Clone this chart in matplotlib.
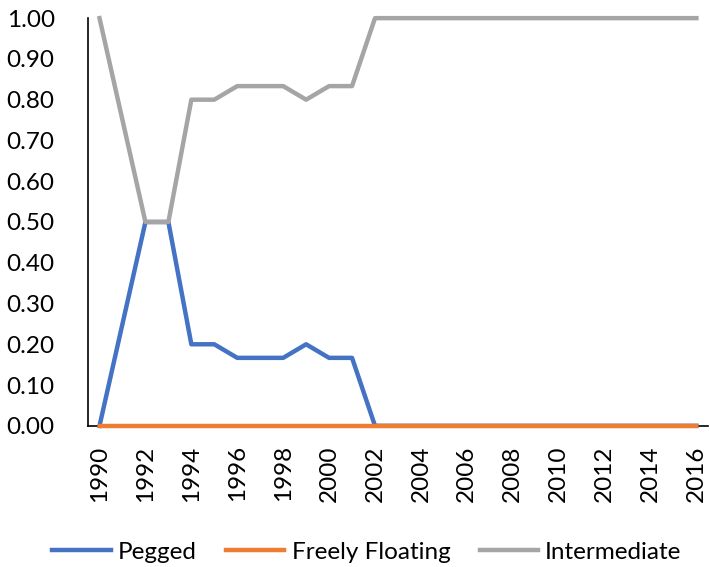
import matplotlib
matplotlib.use('Agg')
import matplotlib.pyplot as plt
import numpy as np

plt.rcParams['font.family'] = ['Lato', 'DejaVu Sans']

### Données

years = np.arange(1990, 2017)
pegged = [0.0, 0.25, 0.5, 0.5, 0.2, 0.2, 0.1667, 0.1667, 0.1667, 0.2, 0.1667, 0.1667] + [0.0] * 15
floating = [0.0] * 27
intermediate = [1.0, 0.75, 0.5, 0.5, 0.8, 0.8, 0.8333, 0.8333, 0.8333, 0.8, 0.8333, 0.8333] + [1.0] * 15

### Tracé

ftsize = 17.5
fig = plt.figure(figsize=(7.1, 5.67), dpi=100)
ax = fig.add_axes([0.124, 0.249, 0.873, 0.719])

ax.plot(years, pegged, color='#4472C4', lw=3.2, label='Pegged', clip_on=False, zorder=3)
ax.plot(years, floating, color='#ED7D31', lw=3.2, label='Freely Floating', clip_on=False, zorder=3)
ax.plot(years, intermediate, color='#A5A5A5', lw=3.2, label='Intermediate', clip_on=False, zorder=3)

ax.set_xlim(1989.5, 2016.5)
ax.set_ylim(0, 1.0)
ax.set_xticks(years[::2])
ax.set_xticklabels([str(y) for y in years[::2]], rotation=90, fontsize=ftsize)
ax.set_yticks(np.arange(0, 1.01, 0.1))
ax.set_yticklabels(['%.2f' % v for v in np.arange(0, 1.01, 0.1)], fontsize=ftsize)
ax.tick_params(length=0)
ax.tick_params(axis='x', pad=14)
ax.tick_params(axis='y', pad=24)

for s in ['top', 'right']:
    ax.spines[s].set_visible(False)
ax.spines['left'].set_linewidth(1.2)
ax.spines['bottom'].set_linewidth(1.2)

ax.legend(loc='lower center', bbox_to_anchor=(0.45, -0.39), ncol=3, frameon=False,
          fontsize=ftsize, handlelength=2.4, columnspacing=1.2, handletextpad=0.3)

fig.savefig('out.png', dpi=100)
